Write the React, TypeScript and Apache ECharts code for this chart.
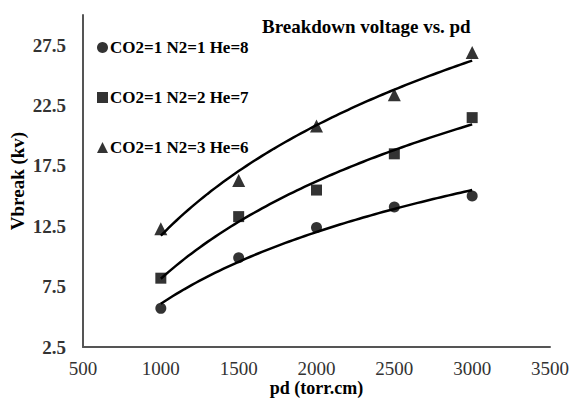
import React, { useEffect, useRef } from "react";
import * as echarts from "echarts";

const pdValues = [1000, 1500, 2000, 2500, 3000];
const seriesNames = ["CO2=1 N2=1 He=8", "CO2=1 N2=2 He=7", "CO2=1 N2=3 He=6"];
const vMix1 = [5.7, 9.9, 12.4, 14.1, 15.0];
const vMix2 = [8.2, 13.3, 15.5, 18.5, 21.5];
const vMix3 = [12.3, 16.3, 20.8, 23.4, 26.9];
const symbols = ["circle", "rect", "triangle"];
const xTicks = { min: 500, max: 3500, interval: 500 };
const yTicks = { min: 2.5, max: 30, interval: 5 };

function logFit(xs: number[], ys: number[]) {
  const n = xs.length;
  const lx = xs.map((x) => Math.log(x));
  const mx = lx.reduce((a, b) => a + b, 0) / n;
  const my = ys.reduce((a, b) => a + b, 0) / n;
  let sxy = 0;
  let sxx = 0;
  for (let i = 0; i < n; i++) {
    sxy += (lx[i] - mx) * (ys[i] - my);
    sxx += (lx[i] - mx) * (lx[i] - mx);
  }
  const a = sxy / sxx;
  const b = my - a * mx;
  const pts: number[][] = [];
  const x0 = xs[0];
  const x1 = xs[n - 1];
  const steps = 80;
  for (let i = 0; i <= steps; i++) {
    const x = x0 + ((x1 - x0) * i) / steps;
    pts.push([x, a * Math.log(x) + b]);
  }
  return pts;
}

const FONT = "'Liberation Serif', 'Times New Roman', serif";

export default function App() {
  const ref = useRef<HTMLDivElement>(null);
  useEffect(() => {
    if (!ref.current) return;
    const chart = echarts.init(ref.current, null, { renderer: "svg" });
    const allData = [vMix1, vMix2, vMix3];
    const series: any[] = [];
    allData.forEach((vals, i) => {
      series.push({
        name: seriesNames[i],
        type: "scatter",
        symbol: symbols[i],
        symbolSize: i === 2 ? 13 : 11,
        itemStyle: { color: "#000" },
        data: pdValues.map((x, j) => [x, vals[j]]),
        z: 3,
      });
      series.push({
        name: seriesNames[i] + " trend",
        type: "line",
        showSymbol: false,
        symbol: "none",
        smooth: false,
        lineStyle: { color: "#000", width: 2.5 },
        data: logFit(pdValues, vals),
        z: 2,
      });
    });
    chart.setOption({
      animation: false,
      backgroundColor: "#fff",
      title: {
        text: "Breakdown voltage vs. pd",
        left: 257,
        top: 12,
        textStyle: { fontFamily: FONT, fontWeight: "bold", fontSize: 19, color: "#000" },
      },
      legend: {
        orient: "vertical",
        left: 92,
        top: 34,
        itemGap: 33,
        itemWidth: 11,
        itemHeight: 11,
        data: seriesNames.map((n, i) => ({ name: n, icon: symbols[i] })),
        textStyle: { fontFamily: FONT, fontWeight: "bold", fontSize: 17, color: "#000", padding: [0, 0, 0, -3] },
      },
      grid: { left: 83, right: 23, top: 15, bottom: 52, containLabel: false, outerBoundsMode: "none" },
      xAxis: {
        type: "value",
        min: xTicks.min,
        max: xTicks.max,
        interval: xTicks.interval,
        name: "pd (torr.cm)",
        nameLocation: "middle",
        nameGap: 34,
        nameMoveOverlap: false,
        nameTextStyle: { fontFamily: FONT, fontWeight: "bold", fontSize: 18, color: "#000", lineHeight: 14 },
        axisLine: { lineStyle: { color: "#555", width: 2 } },
        axisTick: { show: false },
        splitLine: { show: false },
        axisLabel: {
          fontFamily: FONT,
          fontSize: 19,
          color: "#333",
          margin: 12,
          lineHeight: 19,
          formatter: (v: number) => String(v),
        },
      },
      yAxis: {
        type: "value",
        min: yTicks.min,
        max: yTicks.max,
        interval: yTicks.interval,
        name: "Vbreak (kv)",
        nameLocation: "middle",
        nameGap: 56,
        nameMoveOverlap: false,
        nameTextStyle: { fontFamily: FONT, fontWeight: "bold", fontSize: 19, color: "#000" },
        axisLine: { show: true, lineStyle: { color: "#555", width: 2 } },
        axisTick: { show: false },
        splitLine: { show: false },
        axisLabel: {
          fontFamily: FONT,
          fontWeight: "bold",
          fontSize: 19,
          color: "#333",
          margin: 17,
          showMaxLabel: false,
          formatter: (v: number) => (Math.abs(v - 30) < 1e-6 ? "" : v.toFixed(1)),
        },
      },
      series,
    });
    return () => chart.dispose();
  }, []);
  return <div ref={ref} style={{ width: 573, height: 399, position: "absolute", left: 0, top: 0 }} />;
}
